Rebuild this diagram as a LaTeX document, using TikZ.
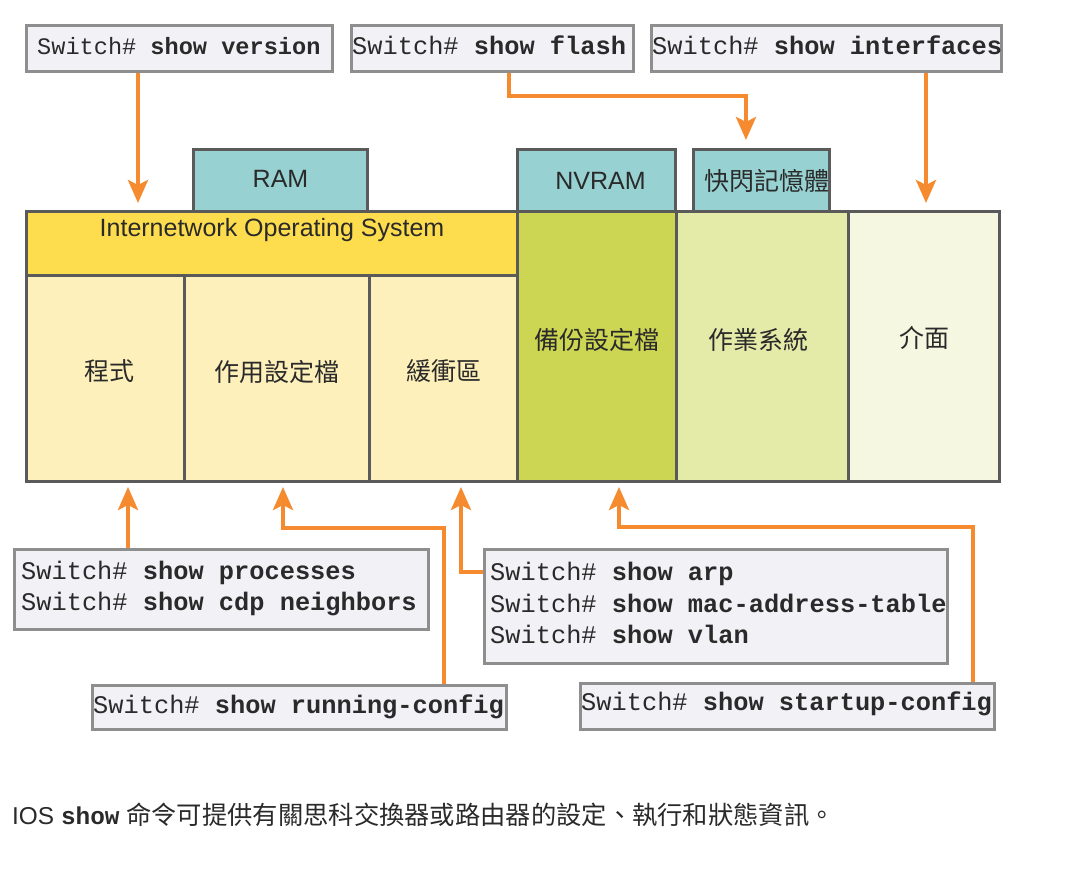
\documentclass[tikz,border=0pt]{standalone}
\usepackage{fontspec}
\setmainfont{Liberation Sans}
\setmonofont{Liberation Mono}
\newfontfamily\cjk{Noto Sans CJK TC}
\usetikzlibrary{arrows.meta}
\definecolor{cmdfill}{HTML}{F2F1F5}
\definecolor{cmdline}{HTML}{8E8E8E}
\definecolor{memteal}{HTML}{97D1D1}
\definecolor{iosyellow}{HTML}{FDDC4E}
\definecolor{cellyellow}{HTML}{FEF0BA}
\definecolor{bakgreen}{HTML}{CDD653}
\definecolor{osgreen}{HTML}{E4EAA8}
\definecolor{intfcream}{HTML}{F6F7E0}
\definecolor{celline}{HTML}{5A5A5A}
\definecolor{arrorange}{HTML}{F58A2E}
\definecolor{txt}{HTML}{2A2A2A}
\newcommand\cmdsize{\fontsize{25.35bp}{31.5bp}\selectfont}
\newcommand\cmdsmall{\fontsize{23.6bp}{29bp}\selectfont}
\newcommand\lblsize{\fontsize{25bp}{30bp}\selectfont}
\newcommand\capsize{\fontsize{24.4bp}{30bp}\selectfont}
\newcommand\capcjksize{\fontsize{25.3bp}{30bp}\selectfont}
\tikzset{
  cmdbox/.style={draw=cmdline, line width=2.5bp, fill=cmdfill, anchor=north west, inner sep=0pt},
  cmdtext/.style={anchor=west, inner sep=0pt, font=\cmdsize\ttfamily, align=left, text=txt},
  cell/.style={draw=celline, line width=3bp, anchor=north west, inner sep=0pt},
  mem/.style={cell, fill=memteal},
  lbl/.style={inner sep=0pt, font=\lblsize, text=txt},
  cjklbl/.style={inner sep=0pt, font=\lblsize\cjk, text=txt},
  arr/.style={draw=arrorange, line width=4bp, -{Stealth[length=23bp,width=20bp,inset=5bp]}}
}
\begin{document}
\begin{tikzpicture}[x=1bp,y=-1bp]
\useasboundingbox (0,0) rectangle (1070,872);
\fill[white] (0,0) rectangle (1070,872);

% memory tabs
\node[mem, minimum width=174bp, minimum height=62bp] (ram) at (192,148) {};
\node[mem, minimum width=158bp, minimum height=62bp] (nvram) at (516,148) {};
\node[mem, minimum width=136bp, minimum height=62bp] (flash) at (692,148) {};
\node[lbl] (ramt) at ([yshift=2bp]ram.center) {RAM};
\node[lbl] (nvramt) at ([xshift=4bp]nvram.center) {NVRAM};
\node[cjklbl] (flasht) at ([xshift=5bp]flash.center) {快閃記憶體};

% main cells
\node[cell, fill=iosyellow, minimum width=491bp, minimum height=64bp] (ios) at (25,210) {};
\node[cell, fill=cellyellow, minimum width=158bp, minimum height=206bp] (prog) at (25,274) {};
\node[cell, fill=cellyellow, minimum width=185bp, minimum height=206bp] (act) at (183,274) {};
\node[cell, fill=cellyellow, minimum width=148bp, minimum height=206bp] (buf) at (368,274) {};
\node[cell, fill=bakgreen, minimum width=159bp, minimum height=270bp] (bak) at (516,210) {};
\node[cell, fill=osgreen, minimum width=172bp, minimum height=270bp] (os) at (675,210) {};
\node[cell, fill=intfcream, minimum width=151bp, minimum height=270bp] (intf) at (847,210) {};

\node[lbl] (iost) at ([yshift=13bp]ios.center) {Internetwork Operating System};
\node[cjklbl] (progt) at ([xshift=4bp,yshift=7bp]prog.center) {程式};
\node[cjklbl] (actt) at ([yshift=7bp]act.center) {作用設定檔};
\node[cjklbl] (buft) at ([yshift=7bp]buf.center) {緩衝區};
\node[cjklbl] (bakt) at ([yshift=7bp]bak.center) {備份設定檔};
\node[cjklbl] (ost) at ([xshift=-4bp,yshift=7bp]os.center) {作業系統};
\node[cjklbl] (intft) at ([yshift=9bp]intf.center) {介面};

% top command boxes
\node[cmdbox, minimum width=306bp, minimum height=46bp] (ver) at (25,24) {};
\node[cmdtext, font=\cmdsmall\ttfamily] (vert) at ([xshift=12bp,yshift=2bp]ver.west) {Switch\# \textbf{show version}};
\node[cmdbox, minimum width=282bp, minimum height=46bp] (fla) at (350,24) {};
\node[cmdtext] (flat) at ([xshift=2bp,yshift=3bp]fla.west) {Switch\# \textbf{show flash}};
\node[cmdbox, minimum width=350bp, minimum height=46bp] (inf) at (650,24) {};
\node[cmdtext] (inft) at ([xshift=2bp,yshift=3bp]inf.west) {Switch\# \textbf{show interfaces}};

% bottom command boxes
\node[cmdbox, minimum width=414bp, minimum height=80bp] (proc) at (13,548) {};
\node[cmdtext] (proct) at ([xshift=8bp,yshift=1bp]proc.west) {Switch\# \textbf{show processes}\\Switch\# \textbf{show cdp neighbors}};
\node[cmdbox, minimum width=463bp, minimum height=114bp] (arp) at (483,548) {};
\node[cmdtext] (arpt) at ([xshift=7bp,yshift=3bp]arp.west) {Switch\# \textbf{show arp}\\Switch\# \textbf{show mac-address-table}\\Switch\# \textbf{show vlan}};
\node[cmdbox, minimum width=414bp, minimum height=44bp] (run) at (91,684) {};
\node[cmdtext] (runt) at ([xshift=2bp]run.west) {Switch\# \textbf{show running-config}};
\node[cmdbox, minimum width=414bp, minimum height=46bp] (sta) at (579,682) {};
\node[cmdtext] (stat) at ([xshift=2bp,yshift=2bp]sta.west) {Switch\# \textbf{show startup-config}};

% connector points
\coordinate (tv) at (138,203);
\coordinate (fb) at (746,96);
\coordinate (tf) at (746,140);
\coordinate (ti) at (926,203);
\coordinate (tp) at (128,487);
\coordinate (rb) at (283,528);
\coordinate (ta) at (283,487);
\coordinate (tb) at (461,487);
\coordinate (sb) at (619,527);
\coordinate (ts) at (619,487);

% arrows
\draw[arr] (ver.south -| tv) -- (tv);
\draw[arr] ([xshift=17bp]fla.south) |- (fb) -- (tf);
\draw[arr] (inf.south -| ti) -- (ti);
\draw[arr] (proc.north -| tp) -- (tp);
\draw[arr] ([xshift=145bp]run.north) |- (rb) -- (ta);
\draw[arr] ([yshift=34bp]arp.west) -| (tb);
\draw[arr] ([xshift=186bp]sta.north) |- (sb) -- (ts);

% caption
\node[anchor=west, inner sep=0pt, text=txt, font=\capsize] (cap) at (12,815) {IOS {\ttfamily\bfseries show} {\capcjksize\cjk 命令可提供有關思科交換器或路由器的設定、執行和狀態資訊。}};
\end{tikzpicture}
\end{document}
